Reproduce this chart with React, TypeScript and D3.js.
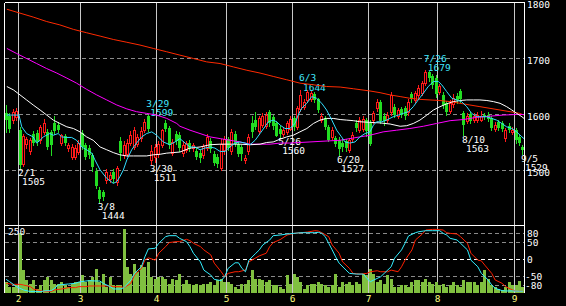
import React from "react";
import * as d3 from "d3";

// ---------- data (trading-day index: 0 = 2/1) ----------
const FIRST_IDX = -4;
const opens = [
  1602,1598,1590,1596,1572,1512,1548,1535,1565,1567,
  1554,1569,1569,1568,1585,1582,1549,1562,1540,1525,
  1525,1533,1567,1545,1540,1527,1500,1465,1462,1483,
  1485,1497,1479,1552,1528,1530,1549,1542,1548,1558,
  1572,1597,1519,1525,1530,1546,1585,1576,1531,1565,
  1563,1531,1537,1550,1540,1534,1532,1528,1540,1552,
  1530,1525,1504,1536,1556,1535,1566,1548,1542,1518,
  1534,1585,1590,1570,1582,1580,1605,1595,1584,1575,
  1566,1569,1575,1593,1578,1610,1614,1626,1628,1636,
  1627,1590,1593,1578,1560,1558,1555,1550,1552,1537,
  1557,1585,1572,1574,1590,1585,1590,1611,1622,1598,
  1590,1605,1614,1598,1610,1611,1605,1636,1626,1635,
  1638,1656,1676,1668,1665,1641,1635,1620,1606,1618,
  1633,1642,1602,1588,1601,1590,1591,1590,1600,1600,
  1593,1575,1587,1585,1558,1580,1569,1572,1560,1542,
];
const highs = [
  1617,1603,1610,1612,1578,1566,1560,1558,1570,1572,
  1582,1592,1575,1572,1598,1586,1566,1565,1550,1548,
  1545,1555,1572,1550,1545,1532,1505,1470,1466,1502,
  1498,1502,1508,1560,1552,1556,1570,1577,1565,1578,
  1592,1599,1545,1548,1552,1575,1590,1580,1556,1570,
  1568,1552,1553,1555,1550,1540,1536,1548,1566,1558,
  1534,1530,1556,1562,1560,1575,1570,1552,1546,1527,
  1565,1597,1605,1598,1603,1605,1608,1600,1588,1580,
  1578,1588,1598,1597,1616,1644,1628,1643,1642,1641,
  1630,1602,1597,1582,1578,1562,1560,1556,1557,1558,
  1568,1590,1595,1598,1594,1590,1606,1628,1626,1602,
  1604,1640,1618,1612,1614,1615,1628,1640,1642,1652,
  1660,1679,1678,1672,1670,1655,1640,1624,1626,1636,
  1638,1646,1606,1602,1605,1602,1604,1606,1603,1604,
  1597,1586,1590,1589,1576,1584,1578,1576,1563,1545,
];
const lows = [
  1568,1568,1584,1590,1505,1508,1540,1530,1545,1546,
  1550,1565,1538,1528,1565,1568,1545,1546,1535,1520,
  1520,1530,1538,1520,1522,1500,1468,1444,1448,1478,
  1480,1480,1475,1518,1522,1526,1545,1538,1544,1552,
  1568,1570,1511,1515,1525,1542,1570,1540,1528,1548,
  1535,1526,1533,1535,1535,1520,1515,1522,1536,1533,
  1510,1507,1501,1530,1537,1530,1543,1526,1519,1514,
  1530,1560,1574,1566,1578,1576,1580,1575,1561,1560,
  1562,1565,1572,1572,1575,1606,1610,1622,1625,1622,
  1604,1586,1574,1552,1556,1544,1527,1535,1535,1533,
  1553,1570,1568,1570,1562,1545,1585,1606,1584,1582,
  1586,1600,1596,1594,1596,1592,1600,1622,1622,1630,
  1634,1652,1660,1648,1632,1636,1612,1600,1602,1614,
  1620,1622,1563,1584,1584,1586,1587,1588,1592,1588,
  1572,1570,1572,1570,1552,1568,1565,1550,1545,1529,
];
const closes = [
  1591,1575,1605,1607,1510,1562,1556,1555,1550,1551,
  1578,1585,1542,1545,1570,1572,1563,1550,1546,1542,
  1540,1549,1542,1525,1528,1506,1472,1450,1452,1497,
  1492,1485,1504,1532,1546,1550,1563,1572,1560,1570,
  1587,1575,1535,1542,1548,1572,1575,1545,1551,1552,
  1541,1546,1549,1538,1546,1525,1522,1543,1560,1538,
  1514,1512,1548,1556,1541,1569,1547,1530,1530,1523,
  1560,1568,1578,1594,1598,1600,1585,1580,1562,1565,
  1572,1584,1592,1578,1612,1635,1623,1640,1638,1626,
  1608,1597,1578,1555,1572,1548,1538,1542,1540,1554,
  1563,1576,1590,1592,1570,1548,1602,1623,1588,1588,
  1600,1634,1600,1608,1600,1597,1623,1627,1638,1647,
  1656,1676,1666,1652,1636,1651,1617,1605,1620,1630,
  1626,1627,1582,1598,1588,1598,1599,1598,1596,1592,
  1576,1582,1576,1575,1572,1572,1573,1554,1550,1537,
];
const volumes = [
  46,25,25,32,250,94,53,39,53,18,
  32,53,67,53,39,39,46,32,25,39,
  46,46,74,46,53,67,101,46,81,25,
  67,32,32,32,267,108,81,122,87,115,
  108,129,67,60,67,67,60,39,60,53,
  81,39,53,39,32,39,32,39,39,46,
  32,53,60,46,46,39,25,18,39,39,
  53,94,60,60,53,46,53,32,32,25,
  18,74,39,81,67,46,18,32,39,39,
  46,39,32,25,32,81,25,46,39,46,
  32,46,39,81,74,101,81,46,53,39,
  74,60,25,25,32,32,25,46,53,53,
  46,60,46,39,46,32,39,25,32,46,
  32,25,53,46,46,46,32,46,94,60,
  32,25,18,11,25,46,32,32,49,25,
];

// moving averages [trading-day index, price]
const maShort: [number, number][] = [[-3.8,1599],[-0.3,1599],[0.5,1578],[1.9,1566],[3.8,1560],[4.8,1549],[5.8,1554],[6.7,1560],[8.6,1566],[9.6,1563],[11,1566],[12,1560],[13.5,1559],[14.9,1559],[16.3,1554],[17.8,1542],[19.2,1537],[20.7,1531],[21.6,1519],[23.1,1501],[25,1486],[26.9,1477],[27.9,1480],[28.8,1489],[29.8,1501],[30.8,1519],[32.2,1537],[33.6,1549],[35.1,1560],[36.5,1566],[38,1569],[39.4,1563],[41.3,1551],[43.2,1546],[44.7,1551],[46.1,1557],[47.6,1549],[49,1542],[50.5,1542],[51.9,1537],[53.3,1540],[54.8,1542],[56.2,1540],[57.7,1534],[59.1,1534],[60.5,1542],[62,1549],[63.4,1551],[64.9,1549],[66.3,1546],[67.8,1554],[69.2,1566],[70.6,1578],[71.6,1587],[73,1590],[74,1587],[75,1581],[76.4,1575],[77.8,1575],[79.3,1584],[80.2,1599],[81.2,1611],[82.7,1620],[84.1,1632],[85.5,1629],[87,1620],[88.4,1608],[89.9,1590],[91.3,1572],[92.7,1560],[93.7,1551],[95.1,1549],[96.6,1551],[98,1560],[99.5,1566],[100.9,1569],[101.9,1581],[102.8,1587],[104.3,1587],[105.7,1590],[107.6,1596],[109.1,1599],[110.5,1602],[112,1605],[113.4,1614],[114.8,1626],[116.3,1638],[117.7,1650],[119.2,1659],[120.6,1659],[121.6,1653],[123,1641],[124.5,1629],[125.9,1626],[127.3,1623],[128.8,1614],[130.2,1602],[131.7,1596],[133.1,1596],[134.5,1596],[136,1593],[137.4,1590],[138.9,1584],[140.3,1578],[141.8,1575],[143.2,1569],[144.7,1560],[145.3,1557]];
const maMid: [number, number][] = [[-3.8,1650],[-1.9,1644],[0,1635],[1.9,1626],[3.8,1617],[5.8,1608],[7.7,1599],[9.6,1590],[11.5,1584],[13.5,1578],[15.4,1575],[17.3,1569],[19.2,1560],[21.1,1554],[23.1,1542],[25,1537],[26.9,1532],[28.8,1528],[30.8,1526],[32.7,1526],[34.6,1526],[36.5,1526],[38.4,1528],[40.4,1529],[42.3,1531],[44.2,1532],[46.1,1533],[49,1540],[51.9,1542],[54.8,1546],[57.7,1547],[60.5,1547],[63.4,1547],[66.3,1546],[69.2,1547],[71.1,1550],[73,1551],[75,1556],[76.9,1560],[78.8,1563],[80.7,1569],[82.7,1575],[84.6,1584],[86.5,1590],[88.4,1593],[90.3,1593],[92.3,1591],[94.2,1590],[96.1,1589],[98,1587],[100.9,1586],[103.8,1585],[106.7,1583],[109.6,1579],[111.5,1580],[113.4,1584],[115.3,1590],[117.3,1599],[119.2,1608],[121.1,1614],[123,1619],[124.9,1623],[126.9,1625],[128.8,1626],[130.7,1626],[132.6,1626],[134.6,1625],[136.5,1623],[138.4,1620],[140.3,1614],[141.8,1608],[143.2,1602],[144.7,1596],[145.3,1593]];
const maLong: [number, number][] = [[-3.8,1718],[-1,1709],[1.9,1700],[4.8,1691],[7.7,1682],[10.6,1674],[13.5,1665],[16.3,1656],[19.2,1645],[22.1,1635],[25,1626],[27.9,1617],[30.8,1610],[33.6,1605],[36.5,1602],[39.4,1599],[42.3,1593],[45.2,1584],[46.1,1579],[49,1572],[51.9,1566],[54.8,1560],[57.7,1557],[60.5,1554],[63.4,1551],[66.3,1547],[69.2,1547],[72.1,1547],[75,1549],[77.8,1549],[80.7,1550],[83.6,1551],[86.5,1552],[89.4,1553],[92.3,1554],[95.1,1557],[98,1560],[100.9,1563],[104.7,1569],[108.6,1572],[112.4,1575],[116.3,1579],[120.1,1584],[124,1589],[127.8,1591],[131.7,1595],[135.5,1597],[139.3,1599],[143.2,1600],[145.3,1600]];
const maVeryLong: [number, number][] = [[-3.8,1788],[0,1781],[3.8,1774],[7.7,1766],[11.5,1760],[15.4,1752],[19.2,1746],[23.1,1740],[26.9,1734],[30.8,1729],[34.6,1724],[38.4,1718],[42.3,1712],[46.1,1706],[50,1700],[53.8,1694],[57.7,1691],[61.5,1685],[65.4,1679],[69.2,1674],[73,1668],[76.9,1662],[80.7,1656],[84.6,1653],[88.4,1650],[92.3,1649],[96.1,1646],[100.9,1642],[103.8,1639],[106.7,1635],[109.6,1632],[112.4,1629],[115.3,1627],[118.2,1626],[121.1,1625],[124,1623],[126.9,1620],[129.7,1617],[132.6,1614],[135.5,1611],[138.4,1608],[141.3,1605],[144.1,1602],[145.3,1599]];

// RCI [index, value]
const rciShort: [number, number][] = [[-4,-60],[-3,-67],[-1,-82],[0,-87],[1,-92],[3,-97],[4,-97],[6,-97],[7,-95],[9,-94],[10,-87],[11,-77],[13,-75],[14,-74],[16,-72],[17,-68],[19,-65],[20,-64],[22,-65],[23,-65],[24,-72],[26,-82],[27,-89],[29,-89],[30,-85],[32,-62],[33,-42],[35,-22],[36,8],[37,32],[39,34],[40,49],[42,69],[43,72],[45,72],[46,64],[48,54],[49,39],[50,19],[52,-7],[53,-32],[55,-47],[56,-60],[58,-64],[59,-52],[60,-27],[62,-10],[63,-10],[64,-27],[65,-37],[66,-2],[68,19],[69,29],[70,44],[72,59],[73,72],[75,74],[77,77],[79,79],[81,81],[83,81],[85,81],[86,82],[87,79],[88,69],[89,49],[90,29],[91,8],[92,-11],[94,-32],[95,-42],[97,-44],[99,-44],[100,-57],[101,-67],[102,-62],[104,-52],[105,-42],[107,-22],[108,4],[110,29],[111,49],[112,71],[114,81],[115,84],[117,87],[119,87],[121,87],[122,79],[123,74],[124,64],[126,59],[127,49],[129,29],[130,-2],[132,-22],[133,-42],[135,-62],[136,-77],[137,-87],[139,-94],[140,-95],[142,-95],[144,-96],[145,-96]];
const rciLong: [number, number][] = [[-4,-72],[-2,-75],[0,-75],[1,-77],[3,-82],[4,-90],[6,-94],[7,-97],[9,-97],[10,-92],[12,-89],[13,-87],[14,-85],[16,-85],[17,-82],[19,-82],[20,-80],[22,-80],[23,-80],[25,-80],[26,-80],[27,-82],[29,-82],[30,-85],[32,-72],[33,-47],[35,-27],[36,-2],[37,5],[39,-2],[40,19],[42,39],[43,51],[45,54],[46,54],[48,61],[49,57],[50,49],[52,39],[53,29],[55,14],[56,-11],[58,-37],[59,-52],[60,-42],[62,-37],[63,-37],[65,-32],[66,-7],[68,5],[69,11],[71,19],[72,39],[73,51],[75,60],[77,74],[79,79],[81,81],[83,83],[85,87],[86,86],[87,81],[89,69],[90,44],[92,19],[93,-7],[95,-27],[96,-42],[98,-44],[100,-42],[101,-37],[103,-34],[104,-37],[106,-37],[107,-32],[109,-37],[110,-22],[111,-2],[113,29],[114,59],[116,77],[117,89],[119,91],[120,91],[122,89],[123,81],[124,79],[126,77],[127,69],[129,49],[130,19],[132,-2],[133,-4],[134,-17],[136,-42],[137,-62],[139,-72],[140,-82],[142,-92],[143,-96],[145,-96]];

const monthLabels = ["2", "3", "4", "5", "6", "7", "8", "9"];
const monthIdx = [0, 18, 40, 60, 79, 101, 121, 143];
const priceTicks = [1800, 1700, 1600, 1500];
const priceGrid = [1700, 1600, 1500];
const rciTicks = [80, 50, 0, -50, -80];
const volTickLabel = "250";

const lowMarks: [number, number, string][] = [[0,1505,"2/1"],[23,1444,"3/8"],[38,1511,"3/30"],[75,1560,"5/26"],[92,1527,"6/20"],[128,1563,"8/10"],[145,1529,"9/5"]];
const highMarks: [number, number, string][] = [[37,1599,"3/29"],[81,1644,"6/3"],[117,1679,"7/26"]];

const GREEN = "#22dd22";
const RED = "#ff1a1a";
const FONT = "'DejaVu Sans Mono', monospace";

export default function App() {
  const W = 566, H = 306;
  const L = 4.5, R = 524.5, T = 2.5, SEP = 225.5, B = 293;
  const xLine = d3.scaleLinear().domain([0, 143]).range([18, 514]);
  const cx = (i: number) => Math.floor(xLine(i) + 2) + 0.5;
  const cxf = (i: number) => xLine(i) + 2;
  const yP = d3.scaleLinear().domain([1400, 1800]).range([226.5, 2.5]);
  const yV = d3.scaleLinear().domain([0, 250]).range([293, 233]);
  const yR = d3.scaleLinear().domain([-100, 100]).range([292.6, 226.4]);

  const pLine = d3.line<[number, number]>().x(d => cxf(d[0])).y(d => yP(d[1]));
  const rLine = d3.line<[number, number]>().x(d => cxf(d[0])).y(d => yR(d[1]));

  const txt = { fontFamily: FONT, fontSize: 9.5 } as const;

  return (
    <>
      <style>{`body{margin:0;background:#000;}`}</style>
      <svg width={W} height={H} style={{ display: "block", background: "#000" }}>
        <defs>
          <clipPath id="mainClip"><rect x={5} y={3} width={519} height={222} /></clipPath>
          <clipPath id="subClip"><rect x={5} y={226} width={519} height={67} /></clipPath>
        </defs>
        <rect x={0} y={0} width={W} height={H} fill="#000" />

        {priceGrid.map(v => (
          <line key={"pg" + v} x1={5} x2={524} y1={Math.floor(yP(v)) + 0.5} y2={Math.floor(yP(v)) + 0.5}
            stroke="#8a8a8a" strokeDasharray="4 3" />
        ))}
        {rciTicks.map(v => (
          <line key={"rg" + v} x1={5} x2={524} y1={Math.floor(yR(v)) + 0.5} y2={Math.floor(yR(v)) + 0.5}
            stroke={v === 0 ? "#ffffff" : "#8a8a8a"} strokeDasharray="4 3" />
        ))}

        {monthIdx.map((m, k) => (
          <line key={"ml" + k} x1={Math.floor(xLine(m)) + 0.5} x2={Math.floor(xLine(m)) + 0.5} y1={3} y2={B}
            stroke="#c8c8c8" />
        ))}

        <g clipPath="url(#subClip)" shapeRendering="crispEdges">
          {volumes.map((v, k) => {
            const i = k + FIRST_IDX;
            const x = cx(i);
            return <rect key={"v" + k} x={x - 1.5} y={yV(v)} width={3} height={yV(0) - yV(v)} fill="#80c040" />;
          })}
        </g>

        {lowMarks.map(([i, p, d]) => (
          <text key={"lo" + d} {...txt} fill="#ffffff">
            <tspan x={xLine(i)} y={yP(p) + 8}>{d}</tspan>
            <tspan x={xLine(i) + 4} y={yP(p) + 17}>{p}</tspan>
          </text>
        ))}
        {highMarks.map(([i, p, d]) => (
          <text key={"hi" + d} {...txt} fill="#40e8ff">
            <tspan x={xLine(i)} y={yP(p) - 8.5}>{d}</tspan>
            <tspan x={xLine(i) + 4} y={yP(p) + 1}>{p}</tspan>
          </text>
        ))}

        <g clipPath="url(#mainClip)" shapeRendering="crispEdges">
          {closes.map((c, k) => {
            const i = k + FIRST_IDX;
            const o = opens[k], h = highs[k], l = lows[k];
            const x = cx(i);
            const up = c >= o;
            const yTop = Math.round(yP(Math.max(o, c)));
            const yBot = Math.round(yP(Math.min(o, c)));
            const col = up ? RED : GREEN;
            return (
              <g key={"c" + k}>
                <line x1={x} x2={x} y1={Math.round(yP(h))} y2={Math.round(yP(l)) + 1} stroke={col} />
                {up ? (
                  <rect x={x - 1} y={yTop + 0.5} width={2} height={Math.max(yBot - yTop, 1)} fill="#000" stroke={col} />
                ) : (
                  <rect x={x - 1.5} y={yTop} width={3} height={Math.max(yBot - yTop, 1)} fill={col} />
                )}
              </g>
            );
          })}
        </g>

        <g clipPath="url(#mainClip)" fill="none" strokeWidth={1}>
          <path d={pLine(maVeryLong) || ""} stroke="#ff2a00" />
          <path d={pLine(maLong) || ""} stroke="#ff00ff" />
          <path d={pLine(maMid) || ""} stroke="#ffffff" />
          <path d={pLine(maShort) || ""} stroke="#33ddff" />
        </g>

        <g clipPath="url(#subClip)" fill="none" strokeWidth={1}>
          <path d={rLine(rciLong) || ""} stroke="#ff2000" />
          <path d={rLine(rciShort) || ""} stroke="#33eeff" />
        </g>

        <g stroke="#ffffff" shapeRendering="crispEdges" fill="none">
          <line x1={L} x2={R} y1={T} y2={T} />
          <line x1={L} x2={L} y1={T} y2={B} />
          <line x1={R} x2={R} y1={T} y2={B} />
          <line x1={L} x2={R} y1={SEP} y2={SEP} />
        </g>

        {priceTicks.map(v => (
          <text key={"pt" + v} x={527} y={yP(v) + 5.5} fill="#ffffff" {...txt}>{v}</text>
        ))}
        {rciTicks.map(v => (
          <text key={"rt" + v} x={v < 0 ? 525 : 527} y={yR(v) + 3.5} fill="#ffffff" {...txt}>{v}</text>
        ))}
        <text x={8} y={235} fill="#ffffff" {...txt}>{volTickLabel}</text>

        {monthIdx.map((m, k) => (
          <text key={"mt" + k} x={Math.floor(xLine(m)) + 0.5} y={302} textAnchor="middle" fill="#ffff80" {...txt}>
            {monthLabels[k]}
          </text>
        ))}
      </svg>
    </>
  );
}
